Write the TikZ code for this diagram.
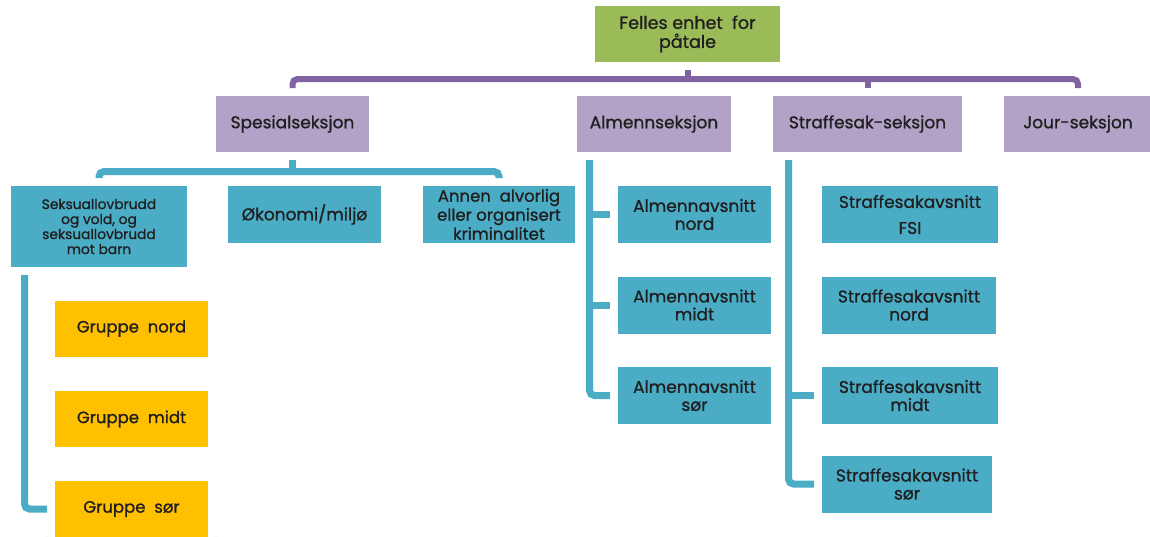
\documentclass[tikz,border=0pt]{standalone}
\usepackage{fontspec}
\setmainfont{Poppins}[FakeBold=1]
\usetikzlibrary{calc,backgrounds}
\definecolor{cgreen}{HTML}{9BBB59}
\definecolor{cpurp}{HTML}{B3A2C7}
\definecolor{cpline}{HTML}{8064A2}
\definecolor{cblue}{HTML}{4BACC6}
\definecolor{cgold}{HTML}{FFC000}
\definecolor{ctext}{HTML}{1F1F1F}
\definecolor{cout}{HTML}{ECECEC}
\tikzset{
 box/.style={rectangle, inner sep=0pt, outer sep=8pt, align=center, text=ctext, font=\fontsize{17}{18}\selectfont},
 topbox/.style={box, fill=cgreen, minimum width=185pt, minimum height=56pt},
 secbox/.style={box, fill=cpurp, minimum height=56pt},
 unitbox/.style={box, fill=cblue, minimum height=57pt},
 grpbox/.style={box, fill=cgold, minimum width=153pt, minimum height=56pt, font=\fontsize{16.5}{18}\selectfont},
 pline/.style={draw=cpline, line width=6pt, rounded corners=5pt},
 bline/.style={draw=cblue, line width=7pt, rounded corners=5pt},
 tline/.style={draw=cblue, line width=7pt},
 halo/.style={draw=cout, line width=0.8pt, fill=white, rounded corners=5pt},
}
\begin{document}
\begin{tikzpicture}[x=1pt,y=-1pt]
\useasboundingbox[fill=white] (0,0) rectangle (1150,536);
% top
\node[topbox, font=\fontsize{17.5}{19}\selectfont] (top) at (687.5,34) {Felles enhet~~for\\påtale};
% sections
\node[secbox, minimum width=153pt] (spes) at (292.5,124) {Spesialseksjon};
\node[secbox, minimum width=154pt] (alm) at (654,124) {Almennseksjon};
\node[secbox, minimum width=189pt] (straff) at (867.5,124) {Straffesak-seksjon};
\node[secbox, minimum width=148pt] (jour) at (1078,124) {Jour-seksjon};
% spesial children
\node[unitbox, minimum width=176pt, minimum height=81pt, font=\fontsize{13.8}{15}\selectfont] (seks) at (99,226.5) {Seksuallovbrudd\\og vold, og\\seksuallovbrudd\\mot barn};
\node[unitbox, minimum width=153pt] (oko) at (304.5,214.5) {Økonomi/miljø};
\node[unitbox, minimum width=152pt, font=\fontsize{16.5}{19}\selectfont] (annen) at (499,214.5) {Annen~~alvorlig\\eller organisert\\kriminalitet};
% groups
\node[grpbox] (gN) at (131.5,328.5) {Gruppe~~nord};
\node[grpbox] (gM) at (131.5,419) {Gruppe~~midt};
\node[grpbox] (gS) at (131.5,509) {Gruppe~~sør};
% almenn children
\node[unitbox, minimum width=153pt] (almN) at (694.5,214.5) {Almennavsnitt\\nord};
\node[unitbox, minimum width=153pt] (almM) at (694.5,305) {Almennavsnitt\\midt};
\node[unitbox, minimum width=153pt] (almS) at (694.5,395.5) {Almennavsnitt\\sør};
% straffesak children
\node[unitbox, minimum width=176pt, font=\fontsize{17}{26}\selectfont] (strF) at (910,214.5) {Straffesakavsnitt\\FSI};
\node[unitbox, minimum width=174pt] (strN) at (909,305) {Straffesakavsnitt\\nord};
\node[unitbox, minimum width=176pt] (strM) at (910,395.5) {Straffesakavsnitt\\midt};
\node[unitbox, minimum width=170pt] (strS) at (907,484) {Straffesakavsnitt\\sør};
% halos
\begin{scope}[on background layer]
\foreach \n in {top,spes,alm,straff,jour,seks,oko,annen,gN,gM,gS,almN,almM,almS,strF,strN,strM,strS}
  \draw[halo] (\n.south west) rectangle (\n.north east);
\end{scope}
% purple connectors
\coordinate (bus) at (0,79);
\draw[draw=cpline, line width=6pt] (top.south) -- (top.south |- bus);
\draw[pline] (spes.north) -- (spes.north |- bus) -- (jour.north |- bus) -- (jour.north);
\draw[draw=cpline, line width=6pt] (straff.north |- bus) -- (straff.north);
% blue connectors: spesial
\coordinate (bbus) at (0,171.5);
\draw[tline] (spes.south) -- (spes.south |- bbus);
\draw[bline] (seks.north) -- (seks.north |- bbus) -- (annen.north |- bbus) -- (annen.north);
\coordinate (sl) at ($(seks.south west)+(21.5,0)$);
\draw[bline] (sl) |- (gS.west);
% almenn
\coordinate (al) at ($(alm.south west)+(20.5,0)$);
\draw[bline] (al) |- (almS.west);
\draw[tline] (almN.west) -- (almN.west -| al);
\draw[tline] (almM.west) -- (almM.west -| al);
% straffesak
\coordinate (sf) at ($(straff.south west)+(23.5,0)$);
\draw[bline] (sf) |- (strS.west);
\draw[tline] (strM.west) -- (strM.west -| sf);
\end{tikzpicture}
\end{document}
